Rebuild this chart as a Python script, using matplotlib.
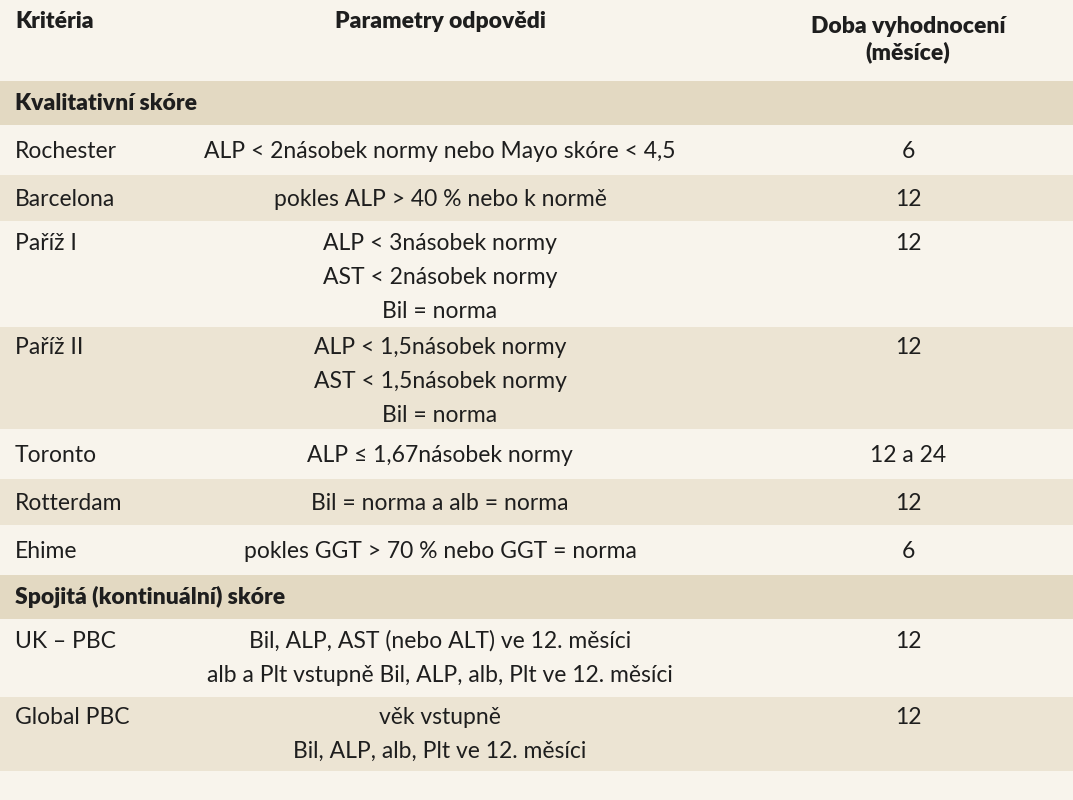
import matplotlib.pyplot as plt
from matplotlib.patches import Rectangle

plt.rcParams["font.family"] = ["Lato", "DejaVu Sans"]

header = ["Kritéria", "Parametry odpovědi", "Doba vyhodnocení\n(měsíce)"]
sections = ["Kvalitativní skóre", "Spojitá (kontinuální) skóre"]

criteria = ["Rochester", "Barcelona", "Paříž I", "Paříž II", "Toronto",
            "Rotterdam", "Ehime", "UK – PBC", "Global PBC"]
params = [
    ["ALP < 2násobek normy nebo Mayo skóre < 4,5"],
    ["pokles ALP > 40 % nebo k normě"],
    ["ALP < 3násobek normy", "AST < 2násobek normy", "Bil = norma"],
    ["ALP < 1,5násobek normy", "AST < 1,5násobek normy", "Bil = norma"],
    ["ALP ≤ 1,67násobek normy"],
    ["Bil = norma a alb = norma"],
    ["pokles GGT > 70 % nebo GGT = norma"],
    ["Bil, ALP, AST (nebo ALT) ve 12. měsíci",
     "alb a Plt vstupně Bil, ALP, alb, Plt ve 12. měsíci"],
    ["věk vstupně", "Bil, ALP, alb, Plt ve 12. měsíci"],
]
months = ["6", "12", "12", "12", "12 a 24", "12", "6", "12", "12"]
section_of = [0, 0, 0, 0, 0, 0, 0, 1, 1]

# layout in pixels
light = "#f8f4ec"
dark = "#ece4d3"
sec_col = "#e3d9c2"
txt = "#1e1e1e"
W, H = 1073, 800
line_h = 34
fs = 16.5

fig = plt.figure(figsize=(W / 100, H / 100), dpi=100)
ax = fig.add_axes([0, 0, 1, 1])
ax.set_xlim(0, W)
ax.set_ylim(H, 0)
ax.axis("off")
ax.add_patch(Rectangle((0, 0), W, H, color=light))

x_crit, x_par, x_mon = 15, 440, 908

def band(y0, h, color):
    ax.add_patch(Rectangle((0, y0), W, h - 2, color=color, lw=0))

band(0, 81, light)
ax.text(x_crit, 22, header[0], fontsize=fs, fontweight="heavy", color=txt, va="center")
ax.text(x_par, 22, header[1], fontsize=fs, fontweight="heavy", color=txt, va="center", ha="center")
ax.text(x_mon, 40, header[2], fontsize=fs, fontweight="heavy", color=txt, va="center",
        ha="center", linespacing=1.25)

y = 81
cur_sec = -1
k = 0
for i, name in enumerate(criteria):
    if section_of[i] != cur_sec:
        cur_sec = section_of[i]
        band(y, 46, sec_col)
        ax.text(x_crit, y + 22, sections[cur_sec], fontsize=fs, fontweight="heavy",
                color=txt, va="center")
        y += 46
        k = 0
    n = len(params[i])
    h = 48 if n == 1 else (76 if n == 2 else 104)
    band(y, h, light if k % 2 == 0 else dark)
    y_first = y + 24 if n == 1 else y + 20
    ax.text(x_crit, y_first, name, fontsize=fs, color=txt, va="center")
    ax.text(x_mon, y_first, months[i], fontsize=fs, color=txt, va="center", ha="center")
    for j, line in enumerate(params[i]):
        ax.text(x_par, y_first + j * line_h, line, fontsize=fs, color=txt,
                va="center", ha="center")
    y += h
    k += 1

fig.savefig("out.png", dpi=100)
